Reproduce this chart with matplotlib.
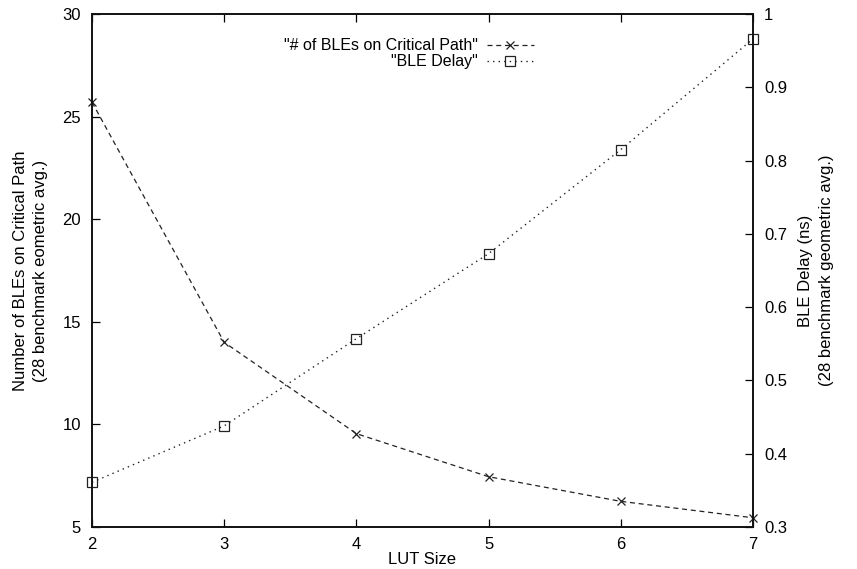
import matplotlib
matplotlib.use("Agg")
import matplotlib.pyplot as plt
from matplotlib.ticker import FuncFormatter, MultipleLocator

lut_size = [2, 3, 4, 5, 6, 7]
bles_on_path = [25.7, 14.0, 9.55, 7.45, 6.25, 5.45]
ble_delay = [0.361, 0.438, 0.557, 0.673, 0.815, 0.966]

plt.rcParams['font.family'] = ['Liberation Sans', 'DejaVu Sans']
plt.rcParams['font.size'] = 12

fig = plt.figure(figsize=(8.57, 5.69), dpi=100)
W, H = 857, 569
ax = fig.add_axes([92 / W, 1 - 527 / H, (753 - 92) / W, (527 - 14) / H])
ax2 = ax.twinx()

col = '#222222'
l1, = ax.plot(lut_size, bles_on_path, linestyle=(0, (4, 3)), color=col, lw=0.9,
              marker='x', markersize=6, markeredgewidth=0.9,
              label='"# of BLEs on Critical Path"', clip_on=False)
l2, = ax2.plot(lut_size, ble_delay, linestyle=(0, (1, 3)), color=col, lw=1.0,
               marker='s', markersize=6.5, markerfacecolor='none', markeredgewidth=0.9,
               label='"BLE Delay"', clip_on=False)

ax.set_xlim(2, 7)
ax.set_ylim(5, 30)
ax2.set_ylim(0.3, 1.0)
ax.xaxis.set_major_locator(MultipleLocator(1))
ax.yaxis.set_major_locator(MultipleLocator(5))
ax2.yaxis.set_major_locator(MultipleLocator(0.1))
ax2.yaxis.set_major_formatter(FuncFormatter(lambda v, p: '%g' % round(v, 2)))

ax.tick_params(axis='x', direction='in', length=6, width=0.9, top=True, pad=7)
ax.tick_params(axis='y', direction='in', length=6, width=0.9, pad=8)
ax2.tick_params(axis='y', direction='in', length=6, width=0.9, pad=8)

for a in (ax, ax2):
    for s in a.spines.values():
        s.set_linewidth(1.2)
        s.set_color('#111111')

ax.set_xlabel('LUT Size', labelpad=0)
ax.set_ylabel('Number of BLEs on Critical Path\n(28 benchmark eometric avg.)', labelpad=10,
              linespacing=1.45)
ax2.set_ylabel('BLE Delay (ns)\n(28 benchmark geometric avg.)', rotation=90, labelpad=8,
               linespacing=1.45)

leg = ax.legend(handles=[l1, l2], loc='upper right', bbox_to_anchor=(540 / W, 1 - 32 / H),
                bbox_transform=fig.transFigure, frameon=False, markerfirst=False,
                numpoints=1, handlelength=2.9, handletextpad=0.6, labelspacing=0.05,
                borderaxespad=0, alignment='right', fontsize=11.5)
for t in leg.get_texts():
    t.set_ha('right')

fig.savefig('out.png', dpi=100)
